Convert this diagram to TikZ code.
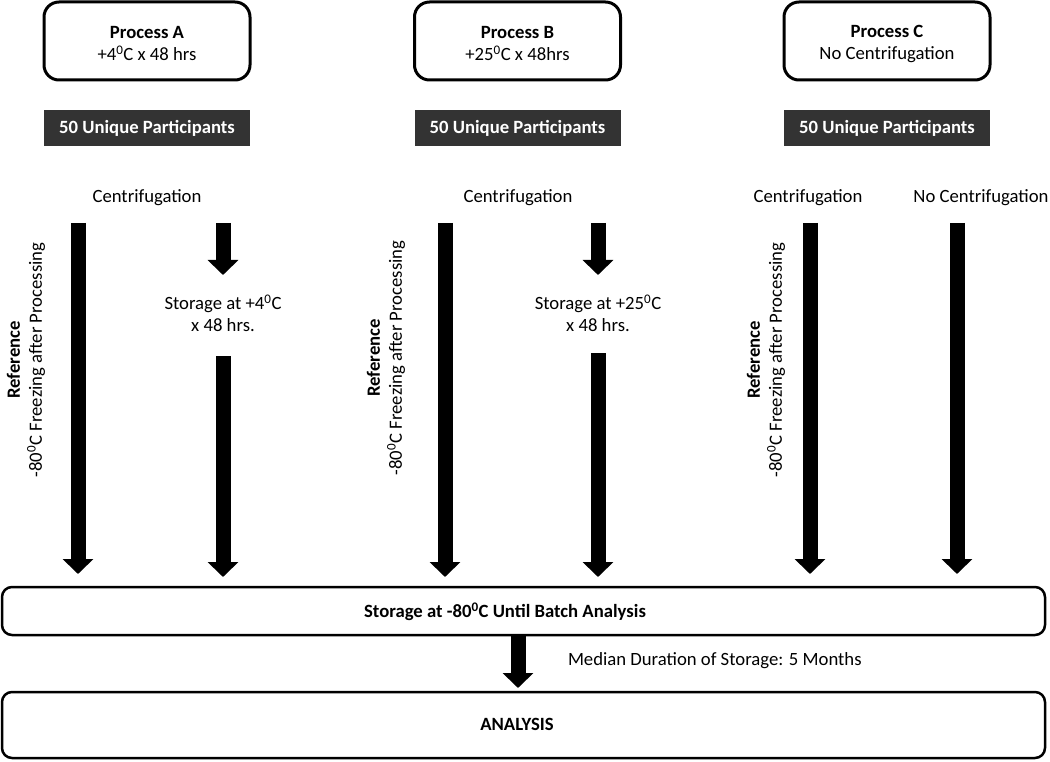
\documentclass[tikz,border=0pt]{standalone}
\usepackage{fontspec}
\setmainfont{Carlito}
\usetikzlibrary{arrows.meta}
\definecolor{bannerfill}{HTML}{333333}
\begin{document}
\begin{tikzpicture}[x=1pt,y=-1pt,
  every node/.style={font=\fontsize{18.7}{22}\selectfont, inner sep=0pt, outer sep=0pt},
  procbox/.style={draw, line width=3pt, rounded corners=15pt, minimum width=206pt, minimum height=78pt},
  proctext/.style={align=center},
  banner/.style={fill=bannerfill, text=white, font=\fontsize{18.7}{22}\selectfont\bfseries, minimum width=206pt, minimum height=36pt},
  wide/.style={draw, line width=2.5pt, rounded corners=10pt, minimum width=1043pt},
  reflabel/.style={rotate=90, align=center},
  bigarrow/.style={line width=15pt, -{Triangle[width=30pt,length=15pt]}},
  lbl/.style={align=center}
]
\useasboundingbox (0,0) rectangle (1050,762);

% process boxes
\node[procbox] (pa) at (147,41) {};
\node[procbox] (pb) at (517.5,41) {};
\node[procbox] (pc) at (887,41) {};
\node[proctext] (pat) at (147,44) {\textbf{Process A}\\+4\textsuperscript{0}C x 48 hrs};
\node[proctext] (pbt) at (517.5,44) {\textbf{Process B}\\+25\textsuperscript{0}C x 48hrs};
\node[proctext] (pct) at (887,44) {\textbf{Process C}\\No Centrifugation};

% banners
\node[banner] (ba) at (147,128) {50 Unique Participants};
\node[banner] (bb) at (517.5,128) {50 Unique Participants};
\node[banner] (bc) at (887,128) {50 Unique Participants};

% centrifugation labels
\node (ca) at (147,198) {Centrifugation};
\node (cb) at (518,198) {Centrifugation};
\node (cc) at (808,198) {Centrifugation};
\node (nc) at (981,198) {No Centrifugation};

% reference labels
\node[reflabel] (ra) at (26,360) {\textbf{Reference}\\-80\textsuperscript{0}C Freezing after Processing};
\node[reflabel] (rb) at (386,358) {\textbf{Reference}\\-80\textsuperscript{0}C Freezing after Processing};
\node[reflabel] (rc) at (766,360) {\textbf{Reference}\\-80\textsuperscript{0}C Freezing after Processing};

% storage labels
\node[lbl] (sa) at (223,313) {Storage at +4\textsuperscript{0}C\\x 48 hrs.};
\node[lbl] (sb) at (598,313) {Storage at +25\textsuperscript{0}C\\x 48 hrs.};

% wide boxes
\node[wide, minimum height=48pt] (store) at (523.5,611) {};
\node[font=\fontsize{18.7}{22}\selectfont\bfseries] (storet) at (505,612) {Storage at -80\textsuperscript{0}C Until Batch Analysis};
\node[wide, minimum height=66pt] (ana) at (523.5,725) {};
\node[font=\fontsize{18.7}{22}\selectfont\bfseries] (anat) at (517,724) {ANALYSIS};
\node[anchor=west] (med) at (568,661) {Median Duration of Storage: 5 Months};

% arrow coordinates
\coordinate (a1s) at (78,223);  \coordinate (a1e) at (78,574);
\coordinate (a2s) at (223,223); \coordinate (a2e) at (223,275);
\coordinate (a3s) at (223,356); \coordinate (a3e) at (223,577);
\coordinate (b1s) at (445,223); \coordinate (b1e) at (445,577);
\coordinate (b2s) at (598,223); \coordinate (b2e) at (598,275);
\coordinate (b3s) at (598,353); \coordinate (b3e) at (598,577);
\coordinate (c1s) at (810,223); \coordinate (c1e) at (810,574);
\coordinate (c2s) at (957,223); \coordinate (c2e) at (957,574);
\coordinate (ms) at (518,636);  \coordinate (me) at (518,688);

\draw[bigarrow] (a1s) -- (a1e);
\draw[bigarrow] (a2s) -- (a2e);
\draw[bigarrow] (a3s) -- (a3e);
\draw[bigarrow] (b1s) -- (b1e);
\draw[bigarrow] (b2s) -- (b2e);
\draw[bigarrow] (b3s) -- (b3e);
\draw[bigarrow] (c1s) -- (c1e);
\draw[bigarrow] (c2s) -- (c2e);
\draw[bigarrow] (ms) -- (me);
\end{tikzpicture}
\end{document}
